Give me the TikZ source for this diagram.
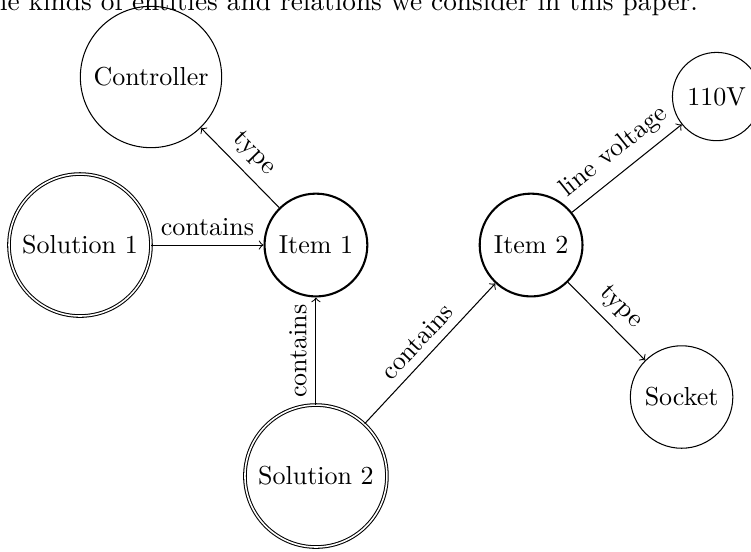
\documentclass[tikz,border=0pt]{standalone}
\begin{document}
\begin{tikzpicture}[
  entity/.style={circle, draw, inner sep=4pt},
  item/.style={circle, draw, thick, inner sep=4pt},
  solution/.style={circle, draw, double, inner sep=4pt},
  rel/.style={->}]
\useasboundingbox (0,0) rectangle (10.15,7.448);
\node[anchor=base east, inner sep=0pt] (caption) at (9.44,7.30) {\scalebox{1.05}{the kinds of entities and relations we consider in this paper.}};
\node[entity] (controller) at (2.041,6.407) {Controller};
\node[solution] (sol1) at (1.081,4.136) {Solution 1};
\node[item] (item1) at (4.27,4.136) {Item 1};
\node[item] (item2) at (7.178,4.136) {Item 2};
\node[entity] (volt) at (9.685,6.143) {110V};
\node[entity] (socket) at (9.212,2.082) {Socket};
\node[solution] (sol2) at (4.27,1.014) {Solution 2};
\draw[rel] (item1) -- node[midway, above, sloped] {type} (controller);
\draw[rel] (sol1) -- node[midway, above] {contains} (item1);
\draw[rel] (sol2) -- node[midway, above, sloped] {contains} (item1);
\draw[rel] (sol2) -- node[midway, above, sloped] {contains} (item2);
\draw[rel] (item2) -- node[midway, above, sloped] {line voltage} (volt);
\draw[rel] (item2) -- node[midway, above, sloped] {type} (socket);
\end{tikzpicture}
\end{document}
